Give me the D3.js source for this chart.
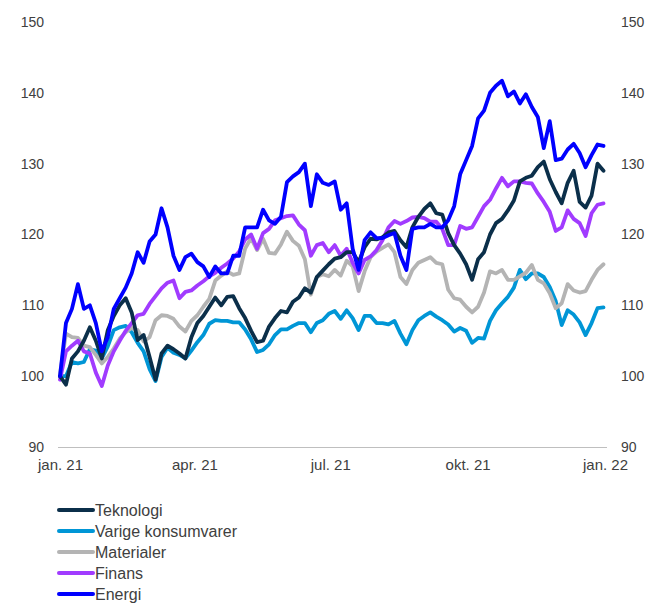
<!DOCTYPE html>
<html lang="no">
<head>
<meta charset="UTF-8">
<title>Sektorer 2021</title>
<script src="https://d3js.org/d3.v7.min.js"></script>
<style>
  body { margin: 0; padding: 0; background: #fff; }
  svg { display: block; font-family: "Liberation Sans", Arial, sans-serif; }
  .axis text { fill: #404040; font-size: 14px; }
  .axis.x text { font-size: 15px; }
  .legend text { fill: #404040; font-size: 16px; }
</style>
</head>
<body>
<div id="chart"></div>
<script>

// Every 4th day from 1 Jan 2021 (92 observations)
const startDate = new Date(2021, 0, 1);
const dates = d3.range(92).map(i => d3.timeDay.offset(startDate, i * 4));

const xTicks = ["2021-01-01", "2021-04-01", "2021-07-01", "2021-10-01", "2022-01-01"];
const xTickLabels = ["jan. 21", "apr. 21", "jul. 21", "okt. 21", "jan. 22"];
const yTicks = [90, 100, 110, 120, 130, 140, 150];

const seriesNames = ["Teknologi", "Varige konsumvarer", "Materialer", "Finans", "Energi"];

const teknologi = [
  100, 98.8, 102.5, 103.5, 105, 106.9, 105, 102.5, 106.5, 108.5,
  110, 111, 109, 105.1, 105.8, 102.7, 99.5, 103.2, 104.3, 103.8,
  103.2, 102.5, 105.5, 107.5, 108.5, 109.8, 111.1, 110, 111.2, 111.3,
  109.6, 108.2, 106.4, 104.8, 105, 107, 108.2, 109.2, 109, 110.5,
  111.1, 112.4, 111.8, 114, 114.9, 115.8, 116.6, 116.8, 117.5, 117.5,
  116.1, 118.2, 119.4, 119.3, 119.6, 120.3, 120.5, 119.2, 118.2, 121,
  122.5, 123.6, 124.4, 123, 122.8, 120.2, 118.5, 117.3, 115.8, 113.6,
  116.5, 117.5, 120, 121.6, 122.2, 123.4, 124.8, 127.5, 128, 128.3,
  129.5, 130.3, 127.8, 126, 124.4, 127.3, 129, 124.6, 123.8, 125.5,
  130, 129
];

const varige = [
  100, 100, 102, 101.8, 102, 103.8, 103.6, 102.5, 104.2, 106.5,
  106.9, 107.1, 106.2, 104.7, 103.5, 101, 99.3, 102.7, 104, 103.3,
  103, 102.5, 103.6, 104.8, 105.8, 107.4, 107.9, 107.8, 107.8, 107.6,
  107.6, 106.6, 105.2, 103.4, 103.7, 104.5, 105.8, 106.6, 106.6, 107.1,
  107.5, 107.5, 106.2, 107.5, 107.9, 108.8, 109.2, 108.1, 109.3, 108.2,
  106.5, 108.5, 108.5, 107.5, 107.5, 107.3, 107.8, 106, 104.5, 106.5,
  107.9, 108.5, 109, 108.4, 107.9, 107.3, 106.3, 106.8, 106.4, 104.7,
  105.4, 105.3, 107.8, 109.3, 110.3, 111.2, 112.5, 115, 113.7, 114.5,
  114.5, 114, 112.6, 110.6, 107.2, 109.3, 108.7, 107.6, 105.8, 107.5,
  109.6, 109.7
];

const materialer = [
  100.3, 106, 105.5, 105.4, 104.3, 104.1, 103, 101.8, 102.7, 103.9,
  105.3, 106.2, 106.8, 106.5, 104.9, 105.5, 107.9, 108.6, 108.5, 108.1,
  107, 106.3, 107.8, 108.6, 109.8, 110.9, 113.5, 114.2, 114.8, 114.3,
  114.5, 118, 119.5, 117.8, 119.4, 117.4, 117.3, 118.6, 120.4, 119.1,
  118.4, 116.5, 111.5, 114, 114.4, 114.1, 115, 114.2, 116.3, 115.5,
  112, 114.8, 116.8, 117.6, 118.1, 118.6, 117.5, 114, 113, 115,
  116, 116.4, 116.8, 116, 115.8, 112.2, 111, 110.8, 109.8, 109,
  109.8, 111.8, 114.8, 114.5, 115, 113.6, 113.6, 114.1, 114.6, 115.7,
  113.6, 113.1, 111.7, 109.6, 110.3, 113, 112.1, 111.8, 112, 113.6,
  115, 115.8
];

const finans = [
  99.5, 103.5, 104.3, 105, 103.5, 103.2, 100.5, 98.6, 101.5, 103.5,
  105, 106.4, 107.5, 108.6, 108.8, 110.2, 111.3, 112.4, 113.2, 113.5,
  111, 111.9, 112.1, 112.8, 113.4, 114.1, 114.6, 115.3, 115.9, 116.6,
  117.6, 119.3, 120, 118, 120.2, 120.8, 122, 122.3, 122.6, 122.7,
  121.4, 120.6, 117, 118.5, 118.8, 117.5, 118.5, 117, 118, 116,
  114.5, 116.4, 116.9, 117.8, 119.2, 121, 121.9, 121.5, 121.9, 122.4,
  122.5, 122.3, 121.8, 121.8, 120.8, 118.5, 118.5, 121.2, 120.8, 121,
  122.5, 124, 124.9, 126.5, 128, 126.8, 127.5, 127.5, 127.3, 127.2,
  125.8, 124.6, 123.2, 120.5, 121, 123.4, 122.2, 121.6, 119.8, 123,
  124.2, 124.4
];

const energi = [
  100, 107.5, 109.5, 113, 109.5, 110, 107.5, 103.5, 105.5, 109.5,
  111, 112.5, 114.5, 117.5, 116, 119, 120, 123.7, 121, 117,
  115, 116.8, 117.3, 116.1, 115.5, 114, 115.5, 114.5, 114.5, 117,
  117, 121, 121, 121, 123.5, 122, 121.5, 122.5, 127.4, 128.2,
  128.8, 130, 124, 128.5, 127.3, 127, 127.5, 123.5, 124.4, 118,
  115, 119.2, 120.3, 119.5, 119.5, 119.9, 120.2, 117, 115, 120.8,
  121, 121, 121.5, 121, 121, 122, 124, 128.5, 130.5, 132.5,
  136.4, 137.5, 140, 141, 141.7, 139.5, 140.2, 138.5, 139.8, 138,
  136.6, 132.2, 136, 130.5, 130.7, 132, 132.8, 131.5, 129.5, 131.2,
  132.7, 132.5
];

const colors = {
  "Teknologi": "#0b2f4a",
  "Varige konsumvarer": "#0096d6",
  "Materialer": "#b4b4b4",
  "Finans": "#a13bff",
  "Energi": "#0000ff"
};

const valuesByName = {
  "Teknologi": teknologi,
  "Varige konsumvarer": varige,
  "Materialer": materialer,
  "Finans": finans,
  "Energi": energi
};

// drawing order (last on top)
const drawOrder = ["Varige konsumvarer", "Materialer", "Finans", "Teknologi", "Energi"];

const width = 651, height = 604;

const svg = d3.select("#chart").append("svg")
  .attr("width", width)
  .attr("height", height);

const x = d3.scaleTime()
  .domain([new Date(2021, 0, 1), new Date(2022, 0, 1)])
  .range([60, 605]);

const y = d3.scaleLinear()
  .domain([90, 150])
  .range([447, 22]);

// y axes on both sides
svg.append("g")
  .attr("class", "axis")
  .attr("transform", "translate(50,0)")
  .call(d3.axisLeft(y).tickValues(yTicks).tickSize(0).tickPadding(6))
  .call(g => g.select(".domain").remove());

svg.append("g")
  .attr("class", "axis")
  .attr("transform", "translate(615,0)")
  .call(d3.axisRight(y).tickValues(yTicks).tickSize(0).tickPadding(6))
  .call(g => g.select(".domain").remove());

// x axis
const parse = d3.timeParse("%Y-%m-%d");
const xAxis = svg.append("g")
  .attr("class", "axis x")
  .attr("transform", "translate(0," + y(90) + ")")
  .call(d3.axisBottom(x)
    .tickValues(xTicks.map(parse))
    .tickFormat((d, i) => xTickLabels[i])
    .tickSize(0)
    .tickPadding(12));
xAxis.select(".domain").remove();
xAxis.append("line")
  .attr("x1", 58).attr("x2", 607)
  .attr("y1", 0.5).attr("y2", 0.5)
  .attr("stroke", "#bfbfbf")
  .attr("stroke-width", 1);

// series lines
const line = d3.line()
  .x((d, i) => x(dates[i]))
  .y(d => y(d))
  .curve(d3.curveLinear);

drawOrder.forEach(name => {
  svg.append("path")
    .datum(valuesByName[name])
    .attr("fill", "none")
    .attr("stroke", colors[name])
    .attr("stroke-width", 3.8)
    .attr("stroke-linejoin", "round")
    .attr("stroke-linecap", "round")
    .attr("d", line);
});

// legend
const legend = svg.append("g").attr("class", "legend");
seriesNames.forEach((name, i) => {
  const ly = 510 + i * 21;
  legend.append("line")
    .attr("x1", 59).attr("x2", 93)
    .attr("y1", ly).attr("y2", ly)
    .attr("stroke", colors[name])
    .attr("stroke-width", 4)
    .attr("stroke-linecap", "round");
  legend.append("text")
    .attr("x", 95)
    .attr("y", ly)
    .attr("dy", "0.35em")
    .text(name);
});

</script>
</body>
</html>
